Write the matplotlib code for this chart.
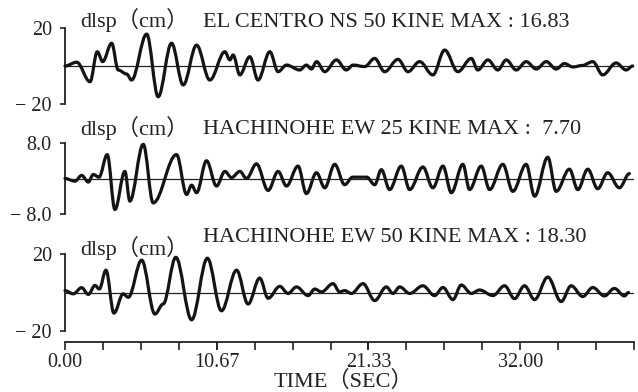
# 三段の変位応答波形 (dlsp) を再現する
import matplotlib.pyplot as plt
from matplotlib.path import Path
from matplotlib.patches import PathPatch
import numpy as np

plt.rcParams['font.family'] = ['Liberation Serif', 'Noto Sans CJK SC']

# 波形の極値 (時刻 sec, 変位 cm) を図から読み取ったもの
t_elcentro = [0.00, 0.82, 1.76, 2.27, 2.65, 3.28, 3.74, 4.33, 4.68, 5.74, 6.55, 7.49,
              8.31, 9.25, 10.18, 11.24, 11.59, 11.82, 12.29, 12.99, 13.57, 14.40, 14.98,
              15.57, 16.50, 16.97, 17.32, 17.68, 18.26, 19.08, 19.78, 20.25, 21.07, 21.77,
              22.47, 23.41, 24.11, 24.93, 25.86, 26.69, 27.62, 28.56, 29.02, 29.73, 30.43,
              31.02, 31.72, 32.42, 33.13, 33.83, 34.53, 35.11, 35.70, 36.38, 37.10, 37.80,
              38.74, 39.45, 39.91]
d_elcentro = [0.0, 2.0, -8.3, 7.5, 2.3, 12.0, -2.1, -4.2, -7.4, 16.8, -16.2, 12.0,
              -10.0, 11.0, -7.4, 7.5, 3.2, 5.8, -4.7, 4.9, -7.4, 7.5, -3.0,
              0.5, -2.1, 0.5, -1.6, 2.3, -3.0, 3.2, -2.1, 0.5, -0.3, 4.0,
              -3.0, 3.5, -3.0, 2.3, -4.7, 8.4, -3.0, 4.0, -2.1, 3.2, -2.1,
              3.2, -2.1, 2.3, -1.6, 2.3, -1.6, 1.3, -0.5, 0.3, 2.3, -4.7,
              1.6, -2.1, 0.0]

t_hachi25 = [0.00, 0.70, 1.17, 1.64, 1.99, 2.39, 2.97, 3.51, 4.21, 4.56, 5.50, 6.20,
             7.84, 8.55, 8.90, 9.25, 9.95, 10.65, 11.24, 11.71, 12.29, 12.76, 13.46,
             14.28, 14.98, 15.57, 16.38, 16.97, 17.68, 18.26, 18.96, 19.66, 20.22, 21.21,
             21.77, 22.24, 22.82, 23.64, 24.23, 25.16, 25.86, 26.57, 27.16, 27.97, 28.44,
             29.26, 29.85, 30.78, 31.48, 32.42, 33.01, 33.94, 34.53, 35.46, 36.05, 36.75,
             37.45, 38.15, 38.97, 39.68]
d_hachi25 = [0.0, -0.6, 0.7, -0.8, 0.9, 0.3, 5.4, -7.0, 1.6, -5.1, 7.7, -5.5,
             5.4, -3.6, -1.5, -3.2, 4.0, -1.7, 1.6, 0.2, 1.6, 0.0, 3.3,
             -2.7, 1.6, -1.7, 2.8, -3.4, 1.3, -2.1, 3.2, -1.4, 0.3, 0.3,
             -1.4, 2.0, -2.5, 2.8, -2.5, 2.6, -2.1, 2.8, -3.2, 3.2, -2.5,
             2.8, -2.5, 3.2, -2.9, 3.2, -4.0, 4.8, -2.9, 2.1, -2.5, 2.1,
             -2.3, 1.3, -2.1, 1.1]

t_hachi50 = [0.00, 0.58, 1.17, 1.64, 2.11, 2.41, 2.88, 3.44, 4.09, 4.45, 5.39, 6.32,
             6.90, 7.79, 8.90, 10.01, 11.00, 12.06, 12.87, 13.69, 14.28, 15.10, 15.68,
             16.27, 17.09, 17.56, 18.03, 18.84, 19.31, 19.66, 20.13, 20.95, 21.77, 22.59,
             23.05, 23.53, 24.23, 25.16, 25.98, 26.57, 27.27, 27.86, 28.56, 29.14, 30.08,
             30.90, 31.60, 32.30, 33.01, 33.94, 34.88, 35.58, 36.40, 37.10, 37.92, 38.62,
             39.33, 39.61]
d_hachi50 = [1.0, -0.7, 2.5, -1.0, 3.7, 1.8, 11.6, -10.7, -0.7, -2.5, 16.8, -11.2,
             -6.0, 18.3, -14.2, 17.8, -9.5, 11.6, -6.0, 7.5, -3.0, 3.2, -0.5,
             2.9, -1.6, 1.8, 0.3, 4.6, 0.3, 1.0, -0.5, 4.6, -4.2, 2.9,
             -0.5, 2.9, -0.5, 3.5, -1.6, 2.6, -3.7, 3.9, -0.5, 1.3, -1.6,
             3.5, -3.2, 3.5, -3.7, 8.0, -4.7, 3.5, -2.1, 2.6, -1.8, 2.1,
             -1.8, 0.0]

titles = ["EL CENTRO NS 50 KINE MAX : 16.83",
          "HACHINOHE EW 25 KINE MAX :  7.70",
          "HACHINOHE EW 50 KINE MAX : 18.30"]
y_limits = [20, 8.0, 20]
y_ticklabels = [["− 20", "20"], ["− 8.0", "8.0"], ["− 20", "20"]]
x_ticks = [0.00, 10.67, 21.33, 32.00]
x_ticklabels = ["0.00", "10.67", "21.33", "32.00"]
x_max = 40.0
x_minor_step = 40.0 / 15


# 極値の間を水平接線のベジェ曲線でつなぐ
def wave_path(ts, ds):
    verts = [(ts[0], ds[0])]
    codes = [Path.MOVETO]
    for i in range(len(ts) - 1):
        dt = ts[i + 1] - ts[i]
        verts += [(ts[i] + dt * 0.36, ds[i]),
                  (ts[i + 1] - dt * 0.36, ds[i + 1]),
                  (ts[i + 1], ds[i + 1])]
        codes += [Path.CURVE4] * 3
    return Path(verts, codes)


W, H = 638, 392
fig = plt.figure(figsize=(W / 100, H / 100), dpi=100)

# 各パネルの位置 (ピクセル: 上端, 下端)
panel_px = [(28, 104), (143, 214), (254, 331)]
left_px, right_px = 65, 634
header_y = [(27, 27), (135, 134), (255, 242)]

series = [(t_elcentro, d_elcentro), (t_hachi25, d_hachi25), (t_hachi50, d_hachi50)]

for k, ((top, bot), (ts, ds)) in enumerate(zip(panel_px, series)):
    ax = fig.add_axes([left_px / W, 1 - bot / H, (right_px - left_px) / W, (bot - top) / H])
    lim = y_limits[k]
    ax.set_xlim(0, x_max)
    ax.set_ylim(-lim, lim)
    ax.patch.set_alpha(0)

    for s in ['top', 'right']:
        ax.spines[s].set_visible(False)
    ax.spines['left'].set_linewidth(1.3)
    ax.spines['left'].set_color('#222222')

    ax.axhline(0, color='#222222', lw=0.9, zorder=1)
    patch = PathPatch(wave_path(ts, ds), facecolor='none', edgecolor='#141414',
                      lw=2.3, capstyle='round', joinstyle='round', clip_on=False, zorder=3)
    ax.add_patch(patch)

    ax.set_yticks([-lim, lim])
    ax.set_yticklabels(y_ticklabels[k], fontsize=14.5, color='#222222')
    ax.tick_params(axis='y', direction='out', length=3.5, width=1.2, pad=6, colors='#222222')

    if k < 2:
        ax.spines['bottom'].set_visible(False)
        ax.set_xticks([])
    else:
        ax.spines['bottom'].set_position(('outward', 8))
        ax.spines['bottom'].set_linewidth(1.3)
        ax.spines['bottom'].set_color('#222222')
        ax.set_xticks(x_ticks)
        ax.set_xticklabels(x_ticklabels, fontsize=14.5, color='#222222')
        ax.set_xticks(np.arange(16) * x_minor_step, minor=True)
        ax.tick_params(axis='x', which='both', direction='out', length=6, width=1.2,
                       pad=1.5, colors='#222222')

    fig.text(80 / W, 1 - header_y[k][0] / H, "dlsp（cm）", fontsize=16,
             va='baseline', ha='left', color='#222222')
    fig.text(203 / W, 1 - header_y[k][1] / H, titles[k], fontsize=16,
             va='baseline', ha='left', color='#222222')

fig.text(343 / W, 1 - 387 / H, "TIME（SEC）", fontsize=16, va='baseline',
         ha='center', color='#222222')

fig.savefig("out.png", dpi=100)
